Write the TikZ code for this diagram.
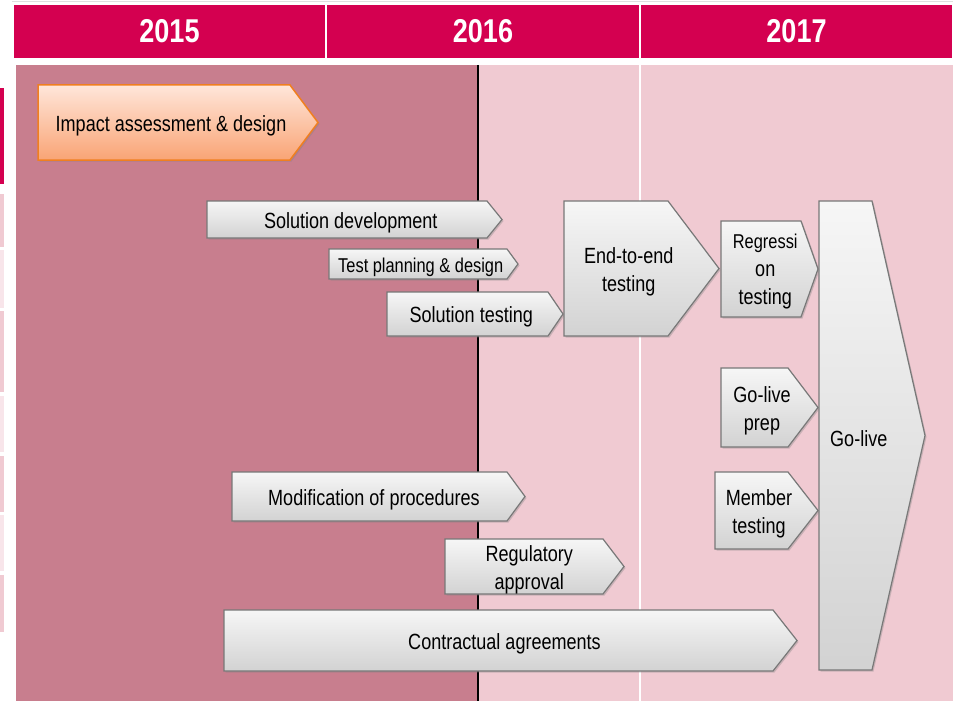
\documentclass[tikz,border=0pt]{standalone}
\usepackage{fontspec}
\setmainfont{Liberation Sans}[FakeStretch=0.82]
\usetikzlibrary{shadows}

\definecolor{headred}{RGB}{212,0,80}
\definecolor{mauve}{RGB}{200,126,142}
\definecolor{blush}{RGB}{240,202,210}
\definecolor{paleblush}{RGB}{248,229,234}
\definecolor{peach}{RGB}{255,230,218}
\definecolor{apricot}{RGB}{249,164,117}
\definecolor{tangerine}{RGB}{240,127,32}
\definecolor{rim}{RGB}{120,120,120}

% phase arrow: [path style]{name}{left}{top}{body right}{tip}{bottom}{label}
\newcommand{\phase}[8][]{%
  \path [phasebox, #1] (#3,#4) -- (#5,#4) -- (#6,{(#4+#7)/2}) -- (#5,#7) -- (#3,#7) -- cycle;
  \node (#2) [phasetext] at ({(#3+(#5+#6)/2)/2},{(#4+#7)/2}) {#8};
}

\begin{document}
\begin{tikzpicture}[
    x=1pt, y=-1pt,
    yearcell/.style={fill=headred, draw=white, line width=1.5pt, text=white,
                     font=\bfseries\fontsize{33}{33}\selectfont,
                     minimum height=55pt, inner sep=0pt},
    phasebox/.style={draw=rim, line width=1.2pt, top color=gray!7, bottom color=gray!35,
                     drop shadow={shadow xshift=1.5pt, shadow yshift=-1.5pt, opacity=0.35}},
    orangebox/.style={draw=tangerine, line width=1.5pt, top color=peach, bottom color=apricot},
    phasetext/.style={font=\fontsize{22}{28}\selectfont, align=center, inner sep=0pt,
                      yshift=-3pt}
]
    \useasboundingbox (0,0) rectangle (956,701);

    % Year header
    \draw [gray!25, line width=1pt] (12,1.5) -- (953,1.5);
    \node (y2015) [yearcell, minimum width=313pt] at (169.5,31.5) {2015};
    \node (y2016) [yearcell, minimum width=314pt] at (483,31.5) {2016};
    \node (y2017) [yearcell, minimum width=313pt] at (796.5,31.5) {2017};

    % Left edge of the cut-off table
    \fill [headred] (0,88) rectangle (4,184);
    \foreach \ya/\yb/\tint in {194/247/blush, 250/308/paleblush, 311/392/blush,
                               396/452/paleblush, 456/512/blush, 515/571/paleblush,
                               575/632/blush}
        \fill [\tint] (0,\ya) rectangle (4,\yb);

    % Timeline body
    \fill [mauve] (16,65) rectangle (478,701);
    \fill [blush] (478,65) rectangle (953,701);
    \draw [white, line width=1.5pt] (640,65) -- (640,701);
    \draw [black, line width=2.5pt] (478,65) -- (478,701);

    % Phases
    \phase[orangebox]{impact}{38}{85}{290}{318}{160}{Impact assessment \& design}
    \phase{soldev}{207}{201}{487}{502}{238}{Solution development}
    \phase{testplan}{329}{249}{507}{518}{279}{\fontsize{20}{25}\selectfont Test planning \& design}
    \phase{soltest}{387}{292}{548}{563}{336}{Solution testing}
    \phase{endtoend}{564}{201}{668}{719}{336}{End-to-end\\testing}

    % Go-live and its inputs
    \phase{golive}{819}{201}{872}{925}{670}{Go-live}
    \phase{regression}{721}{221}{801}{818}{317}{\fontsize{20}{25}\selectfont Regressi\\on\\testing}
    \phase{prep}{721}{368}{788}{818}{447}{Go-live\\prep}
    \phase{member}{715}{472}{788}{818}{549}{Member\\testing}

    % Procedures, approval and contracts
    \phase{modproc}{232}{472}{507}{525}{521}{Modification of procedures}
    \phase{regapp}{445}{539}{603}{624}{594}{Regulatory\\approval}
    \phase{contract}{224}{610}{773}{797}{671}{Contractual agreements}

\end{tikzpicture}
\end{document}
